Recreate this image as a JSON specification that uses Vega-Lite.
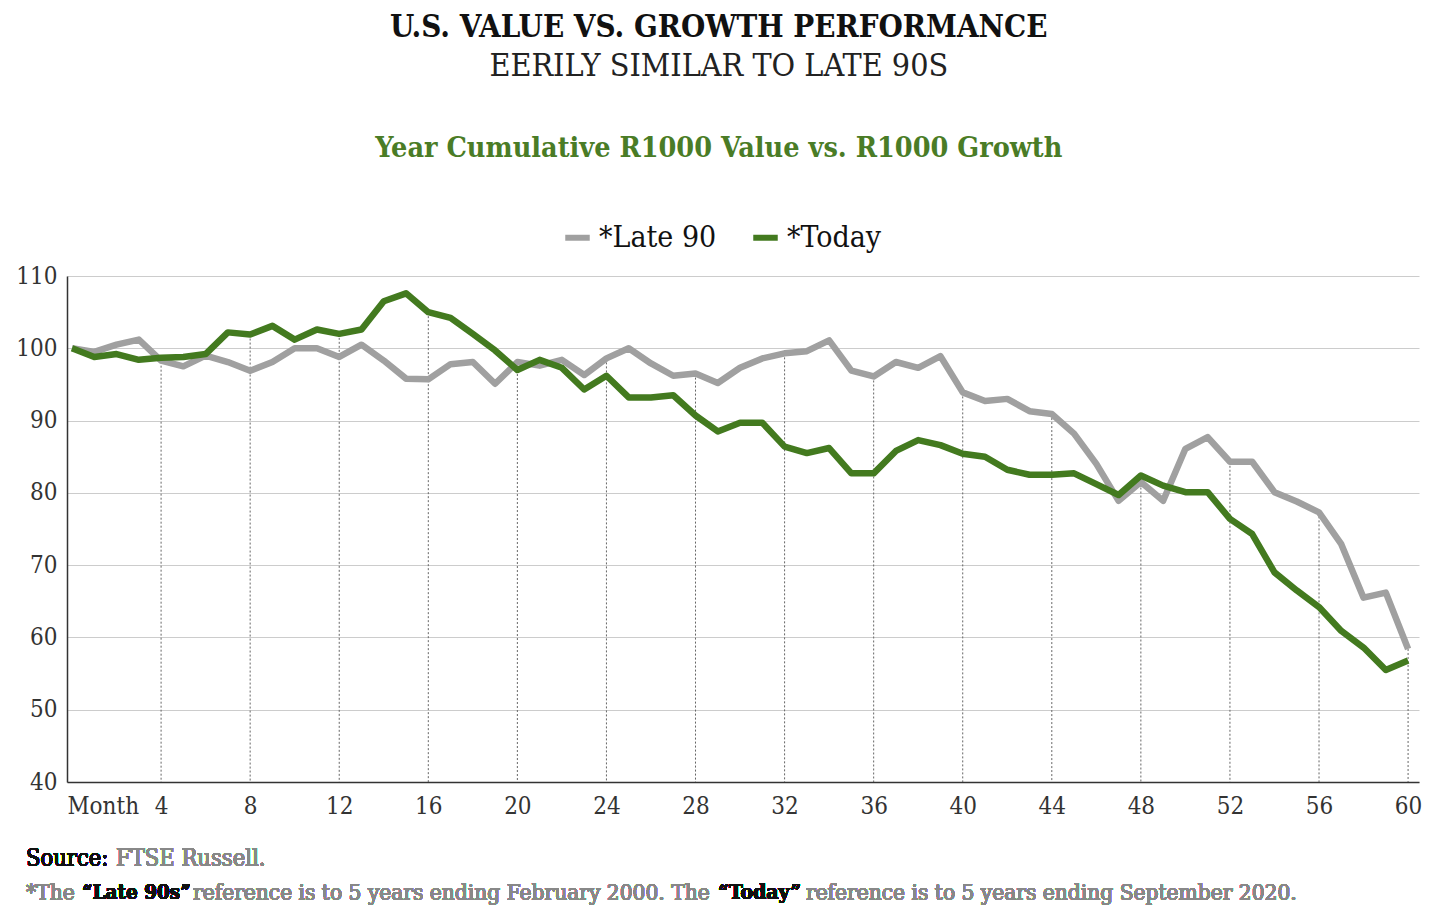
{
  "$schema": "https://vega.github.io/schema/vega-lite/v6.json",
  "background": "white",
  "padding": {"left": 15, "right": 0, "top": 11, "bottom": 0},
  "config": {
    "view": {"stroke": null},
    "font": "DejaVu Serif Condensed",
    "concat": {"spacing": 0}
  },
  "title": {
    "text": "U.S. VALUE VS. GROWTH PERFORMANCE",
    "subtitle": "EERILY SIMILAR TO LATE 90S",
    "anchor": "middle",
    "font": "DejaVu Serif Condensed",
    "fontSize": 31,
    "fontWeight": "bold",
    "color": "#111111",
    "subtitleFont": "DejaVu Serif Condensed",
    "subtitleFontSize": 32,
    "subtitleFontWeight": "normal",
    "subtitleColor": "#222222",
    "subtitlePadding": 7,
    "offset": 51
  },
  "vconcat": [
    {
      "title": {
        "text": "Year Cumulative R1000 Value vs. R1000 Growth",
        "anchor": "middle",
        "frame": "bounds",
        "font": "DejaVu Serif Condensed",
        "fontSize": 28.5,
        "fontWeight": "bold",
        "color": "#4a7c26",
        "offset": 102
      },
      "width": 1352,
      "height": 506,
      "data": {
        "values": [
          {"month": 0, "series": "*Late 90", "value": 100},
          {"month": 1, "series": "*Late 90", "value": 99.5},
          {"month": 2, "series": "*Late 90", "value": 100.5},
          {"month": 3, "series": "*Late 90", "value": 101.2},
          {"month": 4, "series": "*Late 90", "value": 98.3},
          {"month": 5, "series": "*Late 90", "value": 97.5},
          {"month": 6, "series": "*Late 90", "value": 99.0},
          {"month": 7, "series": "*Late 90", "value": 98.1},
          {"month": 8, "series": "*Late 90", "value": 96.9},
          {"month": 9, "series": "*Late 90", "value": 98.1},
          {"month": 10, "series": "*Late 90", "value": 100},
          {"month": 11, "series": "*Late 90", "value": 100},
          {"month": 12, "series": "*Late 90", "value": 98.8},
          {"month": 13, "series": "*Late 90", "value": 100.5},
          {"month": 14, "series": "*Late 90", "value": 98.3},
          {"month": 15, "series": "*Late 90", "value": 95.8},
          {"month": 16, "series": "*Late 90", "value": 95.7},
          {"month": 17, "series": "*Late 90", "value": 97.8},
          {"month": 18, "series": "*Late 90", "value": 98.1},
          {"month": 19, "series": "*Late 90", "value": 95.1},
          {"month": 20, "series": "*Late 90", "value": 98.1},
          {"month": 21, "series": "*Late 90", "value": 97.6},
          {"month": 22, "series": "*Late 90", "value": 98.4},
          {"month": 23, "series": "*Late 90", "value": 96.3},
          {"month": 24, "series": "*Late 90", "value": 98.6},
          {"month": 25, "series": "*Late 90", "value": 100},
          {"month": 26, "series": "*Late 90", "value": 97.9},
          {"month": 27, "series": "*Late 90", "value": 96.2},
          {"month": 28, "series": "*Late 90", "value": 96.5},
          {"month": 29, "series": "*Late 90", "value": 95.2},
          {"month": 30, "series": "*Late 90", "value": 97.3},
          {"month": 31, "series": "*Late 90", "value": 98.6},
          {"month": 32, "series": "*Late 90", "value": 99.3},
          {"month": 33, "series": "*Late 90", "value": 99.6},
          {"month": 34, "series": "*Late 90", "value": 101.1},
          {"month": 35, "series": "*Late 90", "value": 96.9},
          {"month": 36, "series": "*Late 90", "value": 96.1},
          {"month": 37, "series": "*Late 90", "value": 98.1},
          {"month": 38, "series": "*Late 90", "value": 97.3},
          {"month": 39, "series": "*Late 90", "value": 98.9},
          {"month": 40, "series": "*Late 90", "value": 93.9},
          {"month": 41, "series": "*Late 90", "value": 92.7},
          {"month": 42, "series": "*Late 90", "value": 93.0},
          {"month": 43, "series": "*Late 90", "value": 91.3},
          {"month": 44, "series": "*Late 90", "value": 90.9},
          {"month": 45, "series": "*Late 90", "value": 88.2},
          {"month": 46, "series": "*Late 90", "value": 84.0},
          {"month": 47, "series": "*Late 90", "value": 78.9},
          {"month": 48, "series": "*Late 90", "value": 81.5},
          {"month": 49, "series": "*Late 90", "value": 78.9},
          {"month": 50, "series": "*Late 90", "value": 86.1},
          {"month": 51, "series": "*Late 90", "value": 87.7},
          {"month": 52, "series": "*Late 90", "value": 84.3},
          {"month": 53, "series": "*Late 90", "value": 84.3},
          {"month": 54, "series": "*Late 90", "value": 80.1},
          {"month": 55, "series": "*Late 90", "value": 78.8},
          {"month": 56, "series": "*Late 90", "value": 77.3},
          {"month": 57, "series": "*Late 90", "value": 72.9},
          {"month": 58, "series": "*Late 90", "value": 65.5},
          {"month": 59, "series": "*Late 90", "value": 66.2},
          {"month": 60, "series": "*Late 90", "value": 58.4},
          {"month": 0, "series": "*Today", "value": 100},
          {"month": 1, "series": "*Today", "value": 98.8},
          {"month": 2, "series": "*Today", "value": 99.2},
          {"month": 3, "series": "*Today", "value": 98.4},
          {"month": 4, "series": "*Today", "value": 98.7},
          {"month": 5, "series": "*Today", "value": 98.8},
          {"month": 6, "series": "*Today", "value": 99.2},
          {"month": 7, "series": "*Today", "value": 102.2},
          {"month": 8, "series": "*Today", "value": 101.9},
          {"month": 9, "series": "*Today", "value": 103.1},
          {"month": 10, "series": "*Today", "value": 101.2},
          {"month": 11, "series": "*Today", "value": 102.6},
          {"month": 12, "series": "*Today", "value": 102.0},
          {"month": 13, "series": "*Today", "value": 102.6},
          {"month": 14, "series": "*Today", "value": 106.5},
          {"month": 15, "series": "*Today", "value": 107.6},
          {"month": 16, "series": "*Today", "value": 105.0},
          {"month": 17, "series": "*Today", "value": 104.2},
          {"month": 18, "series": "*Today", "value": 102.0},
          {"month": 19, "series": "*Today", "value": 99.7},
          {"month": 20, "series": "*Today", "value": 97.0},
          {"month": 21, "series": "*Today", "value": 98.4},
          {"month": 22, "series": "*Today", "value": 97.3},
          {"month": 23, "series": "*Today", "value": 94.3},
          {"month": 24, "series": "*Today", "value": 96.2},
          {"month": 25, "series": "*Today", "value": 93.2},
          {"month": 26, "series": "*Today", "value": 93.2},
          {"month": 27, "series": "*Today", "value": 93.5},
          {"month": 28, "series": "*Today", "value": 90.7},
          {"month": 29, "series": "*Today", "value": 88.5},
          {"month": 30, "series": "*Today", "value": 89.7},
          {"month": 31, "series": "*Today", "value": 89.7},
          {"month": 32, "series": "*Today", "value": 86.4},
          {"month": 33, "series": "*Today", "value": 85.5},
          {"month": 34, "series": "*Today", "value": 86.2},
          {"month": 35, "series": "*Today", "value": 82.7},
          {"month": 36, "series": "*Today", "value": 82.7},
          {"month": 37, "series": "*Today", "value": 85.8},
          {"month": 38, "series": "*Today", "value": 87.3},
          {"month": 39, "series": "*Today", "value": 86.6},
          {"month": 40, "series": "*Today", "value": 85.4},
          {"month": 41, "series": "*Today", "value": 85.0},
          {"month": 42, "series": "*Today", "value": 83.2},
          {"month": 43, "series": "*Today", "value": 82.5},
          {"month": 44, "series": "*Today", "value": 82.5},
          {"month": 45, "series": "*Today", "value": 82.7},
          {"month": 46, "series": "*Today", "value": 81.2},
          {"month": 47, "series": "*Today", "value": 79.7},
          {"month": 48, "series": "*Today", "value": 82.4},
          {"month": 49, "series": "*Today", "value": 81.0},
          {"month": 50, "series": "*Today", "value": 80.1},
          {"month": 51, "series": "*Today", "value": 80.1},
          {"month": 52, "series": "*Today", "value": 76.4},
          {"month": 53, "series": "*Today", "value": 74.3},
          {"month": 54, "series": "*Today", "value": 69.0},
          {"month": 55, "series": "*Today", "value": 66.5},
          {"month": 56, "series": "*Today", "value": 64.2},
          {"month": 57, "series": "*Today", "value": 60.9},
          {"month": 58, "series": "*Today", "value": 58.6},
          {"month": 59, "series": "*Today", "value": 55.5},
          {"month": 60, "series": "*Today", "value": 56.8}
        ]
      },
      "layer": [
        {
          "transform": [
            {"filter": "datum.month % 4 == 0 && datum.month > 0"},
            {"aggregate": [{"op": "max", "field": "value", "as": "top"}], "groupby": ["month"]}
          ],
          "mark": {"type": "rule", "color": "#666666", "strokeWidth": 1, "strokeDash": [2, 2]},
          "encoding": {
            "x": {"field": "month", "type": "quantitative", "scale": {"domain": [-0.225, 60.49], "nice": false, "zero": false}},
            "y": {"field": "top", "type": "quantitative", "scale": {"domain": [40, 110], "nice": false, "zero": false}},
            "y2": {"datum": 40}
          }
        },
        {
          "mark": {"type": "line", "strokeWidth": 6.5, "strokeJoin": "round", "strokeCap": "butt"},
          "encoding": {
            "x": {
              "field": "month",
              "type": "quantitative",
              "scale": {"domain": [-0.225, 60.49], "nice": false, "zero": false},
              "axis": {
                "title": null,
                "values": [0, 4, 8, 12, 16, 20, 24, 28, 32, 36, 40, 44, 48, 52, 56, 60],
                "labelExpr": "datum.value == 0 ? 'Month' : datum.label",
                "labelAlign": {"condition": {"test": "datum.value == 0", "value": "left"}, "value": "center"},
                "labelOffset": {"condition": {"test": "datum.value == 0", "value": -5}, "value": 0},
                "labelFontSize": 24,
                "labelColor": "#333333",
                "labelPadding": 12,
                "ticks": false,
                "grid": false,
                "domainColor": "#333333",
                "domainWidth": 1.5,
                "labelFlush": false,
                "labelOverlap": false
              }
            },
            "y": {
              "field": "value",
              "type": "quantitative",
              "scale": {"domain": [40, 110], "nice": false, "zero": false},
              "axis": {
                "title": null,
                "values": [40, 50, 60, 70, 80, 90, 100, 110],
                "labelFontSize": 24,
                "labelColor": "#333333",
                "labelPadding": 10,
                "ticks": false,
                "grid": true,
                "gridColor": "#cccccc",
                "gridWidth": 1,
                "domainColor": "#333333",
                "domainWidth": 1.5
              }
            },
            "color": {
              "field": "series",
              "type": "nominal",
              "scale": {"domain": ["*Late 90", "*Today"], "range": ["#a0a0a0", "#437a1f"]},
              "legend": {
                "title": null,
                "orient": "none",
                "direction": "horizontal",
                "legendX": 495,
                "legendY": -54,
                "labelFontSize": 30,
                "labelColor": "#111111",
                "symbolType": "stroke",
                "symbolStrokeWidth": 6,
                "symbolSize": 600,
                "labelOffset": 6,
                "columnPadding": 24
              }
            }
          }
        },
        {
          "mark": {"type": "text", "align": "left", "baseline": "middle", "fontSize": 23.5, "color": "#111111", "text": "Source:"},
          "encoding": {"x": {"datum": -2.066}, "y": {"datum": 29.3}}
        },
        {
          "mark": {"type": "text", "align": "left", "baseline": "middle", "fontSize": 23.5, "color": "#888888", "text": "FTSE Russell."},
          "encoding": {"x": {"datum": 1.976}, "y": {"datum": 29.3}}
        },
        {
          "mark": {"type": "text", "align": "left", "baseline": "middle", "fontSize": 22.5, "color": "#888888", "text": "*The"},
          "encoding": {"x": {"datum": -2.066}, "y": {"datum": 24.7}}
        },
        {
          "mark": {"type": "text", "align": "left", "baseline": "middle", "fontSize": 20.5, "fontWeight": "bold", "color": "#111111", "text": "“Late 90s”"},
          "encoding": {"x": {"datum": 0.449}, "y": {"datum": 24.7}}
        },
        {
          "mark": {"type": "text", "align": "left", "baseline": "middle", "fontSize": 22.5, "color": "#888888", "text": "reference is to 5 years ending February 2000. The"},
          "encoding": {"x": {"datum": 5.434}, "y": {"datum": 24.7}}
        },
        {
          "mark": {"type": "text", "align": "left", "baseline": "middle", "fontSize": 21, "fontWeight": "bold", "color": "#111111", "text": "“Today”"},
          "encoding": {"x": {"datum": 29.01}, "y": {"datum": 24.7}}
        },
        {
          "mark": {"type": "text", "align": "left", "baseline": "middle", "fontSize": 22.5, "color": "#888888", "text": "reference is to 5 years ending September 2020."},
          "encoding": {"x": {"datum": 32.96}, "y": {"datum": 24.7}}
        }
      ]
    }
  ]
}
